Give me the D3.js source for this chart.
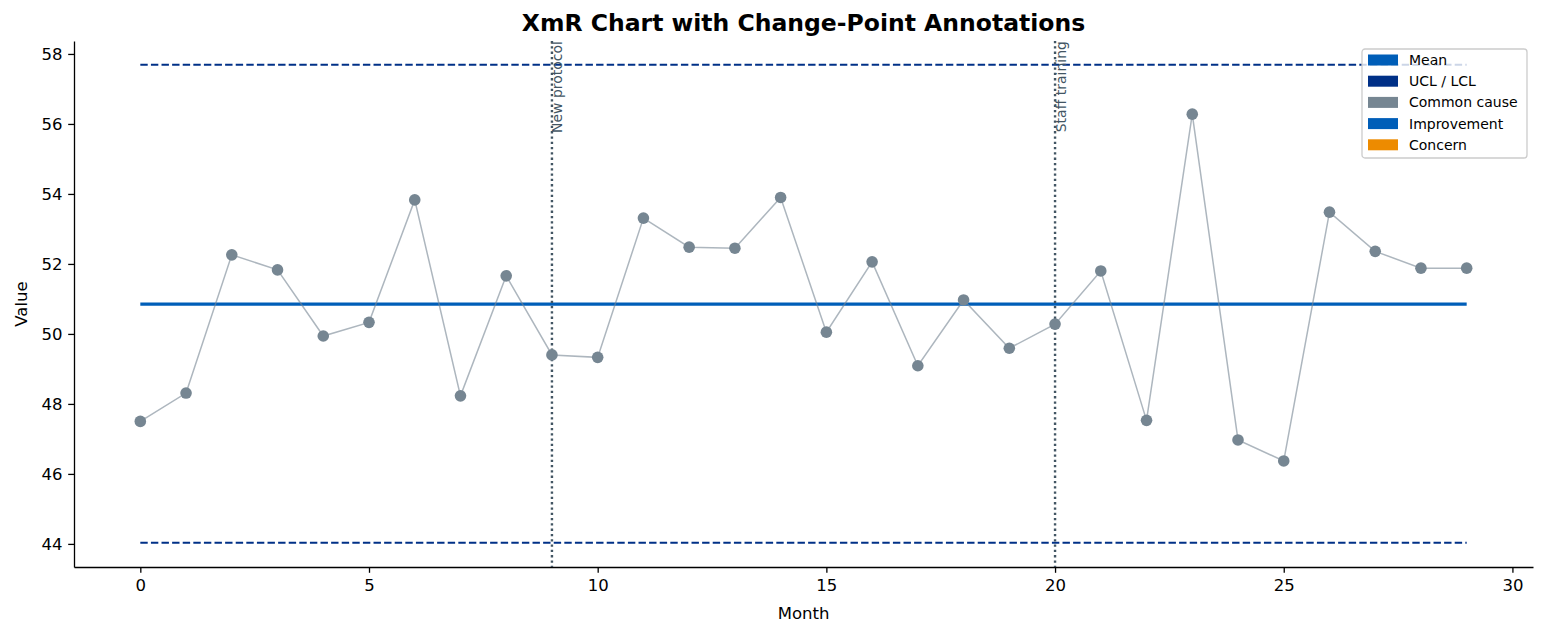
<!DOCTYPE html>
<html>
<head>
<meta charset="utf-8">
<script src="https://cdn.jsdelivr.net/npm/d3@7"></script>
<style>
  body { margin: 0; background: #fff; }
  svg { font-family: "DejaVu Sans", sans-serif; }
  .tick line, .domain { stroke: #000; stroke-width: 1.3px; }
</style>
</head>
<body>
<div id="chart"></div>
<script>
// values
const values = [47.50, 48.31, 52.26, 51.83, 49.94, 50.33, 53.83, 48.23, 51.66, 49.40,
                49.33, 53.31, 52.48, 52.45, 53.90, 50.05, 52.06, 49.09, 50.97, 49.59,
                50.28, 51.80, 47.53, 56.28, 46.97, 46.37, 53.48, 52.36, 51.88, 51.88];
const meanValue = 50.85;
const ucl = 57.69;
const lcl = 44.03;
const changeMonths = [9, 20];
const changeLabels = ['New protocol', 'Staff training'];
const xTicks = [0, 5, 10, 15, 20, 25, 30];
const yTicks = [44, 46, 48, 50, 52, 54, 56, 58];
const legendLabels = ['Mean', 'UCL / LCL', 'Common cause', 'Improvement', 'Concern'];
const legendColors = ['#005EB8', '#003087', '#768692', '#005EB8', '#ED8B00'];

(() => {
  const width = 1546;
  const height = 636;
  const margin = {top: 41, right: 13, bottom: 69, left: 74};

  const data = values.map((v, i) => ({month: i, value: v}));
  const first = data[0].month, last = data[data.length - 1].month;

  const xScale = d3.scaleLinear()
    .domain([-1.45, 30.45])
    .range([margin.left, width - margin.right]);

  const yScale = d3.scaleLinear()
    .domain([43.34, 58.37])
    .range([height - margin.bottom, margin.top]);

  const svg = d3.select('#chart')
    .append('svg')
    .attr('width', width)
    .attr('height', height);

  const styleTicks = g => g
    .attr('font-family', '"DejaVu Sans", sans-serif')
    .attr('font-size', 16.5)
    .call(g => g.selectAll('text').attr('fill', '#000'));

  // axes
  svg.append('g')
    .attr('transform', `translate(0,${height - margin.bottom})`)
    .call(d3.axisBottom(xScale).tickValues(xTicks).tickSize(5.8).tickSizeOuter(0).tickPadding(5))
    .call(styleTicks)
    .call(g => g.selectAll('text').attr('dy', '0.8em'));

  svg.append('g')
    .attr('transform', `translate(${margin.left},0)`)
    .call(d3.axisLeft(yScale).tickValues(yTicks).tickSize(5.8).tickSizeOuter(0).tickPadding(5.8))
    .call(styleTicks);

  svg.append('text')
    .attr('x', margin.left + (width - margin.left - margin.right) / 2)
    .attr('y', 619)
    .attr('text-anchor', 'middle')
    .attr('font-size', '16.5px')
    .text('Month');

  svg.append('text')
    .attr('transform', 'rotate(-90)')
    .attr('x', -(margin.top + (height - margin.top - margin.bottom) / 2))
    .attr('y', 27)
    .attr('text-anchor', 'middle')
    .attr('font-size', '16.5px')
    .text('Value');

  svg.append('text')
    .attr('x', margin.left + (width - margin.left - margin.right) / 2)
    .attr('y', 31)
    .attr('text-anchor', 'middle')
    .attr('font-size', '23.5px')
    .attr('font-weight', 'bold')
    .text('XmR Chart with Change-Point Annotations');

  // control limits
  svg.append('g')
    .selectAll('line')
    .data([ucl, lcl])
    .join('line')
    .attr('x1', xScale(first)).attr('x2', xScale(last))
    .attr('y1', d => yScale(d)).attr('y2', d => yScale(d))
    .attr('stroke', '#003087')
    .attr('stroke-width', 2)
    .attr('stroke-dasharray', '7.4,3.2');

  svg.append('line')
    .attr('x1', xScale(first)).attr('x2', xScale(last))
    .attr('y1', yScale(meanValue)).attr('y2', yScale(meanValue))
    .attr('stroke', '#005EB8')
    .attr('stroke-width', 3.2);

  // change points
  const cp = svg.append('g')
    .selectAll('g')
    .data(changeMonths)
    .join('g');

  cp.append('line')
    .attr('x1', d => xScale(d)).attr('x2', d => xScale(d))
    .attr('y1', margin.top).attr('y2', height - margin.bottom)
    .attr('stroke', '#425563')
    .attr('stroke-width', 2.4)
    .attr('stroke-dasharray', '2.3,3');

  cp.append('text')
    .attr('transform', d => `translate(${xScale(d) + 10.5},${margin.top}) rotate(-90)`)
    .attr('text-anchor', 'end')
    .attr('font-size', '14px')
    .attr('fill', '#425563')
    .text((d, i) => changeLabels[i]);

  // data line and points
  const line = d3.line()
    .x(d => xScale(d.month))
    .y(d => yScale(d.value));

  svg.append('path')
    .datum(data)
    .attr('d', line)
    .attr('fill', 'none')
    .attr('stroke', '#768692')
    .attr('stroke-opacity', 0.6)
    .attr('stroke-width', 1.5);

  svg.append('g')
    .selectAll('circle')
    .data(data)
    .join('circle')
    .attr('cx', d => xScale(d.month))
    .attr('cy', d => yScale(d.value))
    .attr('r', 5.8)
    .attr('fill', '#768692');

  // legend
  const legend = svg.append('g').attr('transform', 'translate(1362,49)');
  legend.append('rect')
    .attr('width', 165).attr('height', 109)
    .attr('rx', 3)
    .attr('fill', '#fff').attr('fill-opacity', 0.8)
    .attr('stroke', '#cccccc').attr('stroke-width', 1.3);

  const item = legend.selectAll('g')
    .data(legendLabels)
    .join('g')
    .attr('transform', (d, i) => `translate(6,${11 + i * 21.2})`);

  item.append('rect')
    .attr('y', -5.5)
    .attr('width', 30).attr('height', 11)
    .attr('fill', (d, i) => legendColors[i]);

  item.append('text')
    .attr('x', 41)
    .attr('dy', '0.36em')
    .attr('font-size', '14px')
    .text(d => d);
})();
</script>
</body>
</html>
